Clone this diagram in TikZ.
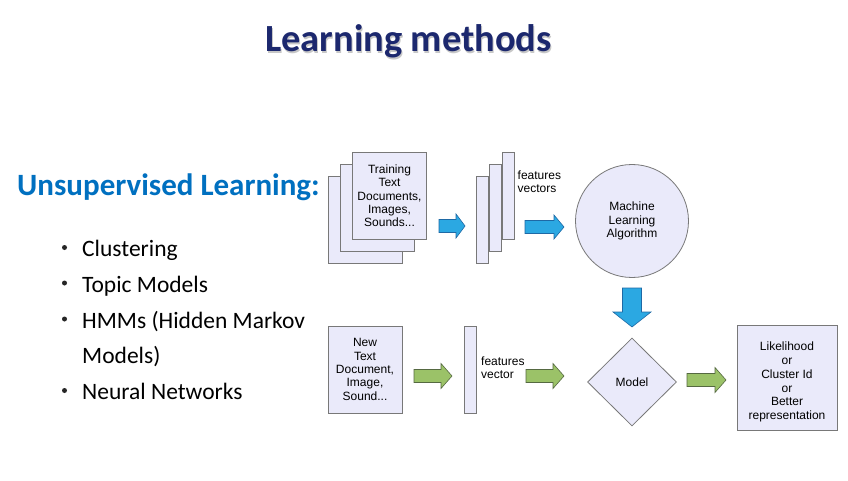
\documentclass[tikz,border=0pt]{standalone}
\usepackage{fontspec}
\setmainfont{Carlito}
\newfontfamily\diagfont{Liberation Sans}
\usetikzlibrary{shapes.geometric,calc}

\definecolor{titlenavy}{RGB}{28,40,110}
\definecolor{headblue}{RGB}{0,112,192}
\definecolor{boxfill}{RGB}{234,234,250}
\definecolor{boxline}{RGB}{120,120,120}
\definecolor{bluefill}{RGB}{43,168,226}
\definecolor{blueline}{RGB}{30,105,165}
\definecolor{greenfill}{RGB}{155,194,104}
\definecolor{greenline}{RGB}{85,105,65}

% horizontal block arrow: style, from, to, shaft half width, head half width, head length
\newcommand\blockarrowh[6]{%
  \draw[#1] let \p1=(#2), \p2=(#3) in
    (\x1,\y1+#4) -- (\x2-#6,\y1+#4) -- (\x2-#6,\y1+#5) -- (\x2,\y1)
    -- (\x2-#6,\y1-#5) -- (\x2-#6,\y1-#4) -- (\x1,\y1-#4) -- cycle;}
% downward block arrow: style, from, to, shaft half width, head half width, head length
\newcommand\blockarrowv[6]{%
  \draw[#1] let \p1=(#2), \p2=(#3) in
    (\x1-#4,\y1) -- (\x1-#4,\y2+#6) -- (\x1-#5,\y2+#6) -- (\x1,\y2)
    -- (\x1+#5,\y2+#6) -- (\x1+#4,\y2+#6) -- (\x1+#4,\y1) -- cycle;}

\tikzset{
  panel/.style={draw=boxline, fill=boxfill, line width=0.8pt, inner sep=0pt,
    font=\diagfont\fontsize{12}{13.3}\selectfont, align=center},
  doc/.style={panel, minimum width=74pt, minimum height=87pt},
  bar/.style={panel, minimum width=12pt, minimum height=87pt},
  note/.style={font=\diagfont\fontsize{12}{13.3}\selectfont, align=left, inner sep=0pt, anchor=west},
  bluearrow/.style={fill=bluefill, draw=blueline, line width=0.6pt, line join=miter},
  greenarrow/.style={fill=greenfill, draw=greenline, line width=0.6pt, line join=miter},
  item/.style={font=\fontsize{23.5}{28}\selectfont, anchor=base west, inner sep=0pt},
  dot/.style={circle, fill=black!85, inner sep=0pt, minimum size=5pt},
}

\begin{document}
\begin{tikzpicture}[x=1pt, y=-1pt]
  \fill[white] (0,0) rectangle (848,481);
  \useasboundingbox (0,0) rectangle (848,481);

  % title with a soft shadow
  \node[font=\bfseries\fontsize{38.4}{44}\selectfont, text=black!22, anchor=base, inner sep=0pt]
    at (409.5,53.5) {Learning methods};
  \node[font=\bfseries\fontsize{38.4}{44}\selectfont, text=titlenavy, anchor=base, inner sep=0pt]
    (title) at (408.5,52) {Learning methods};

  % left column
  \node[font=\bfseries\fontsize{31}{36}\selectfont, text=headblue, anchor=base west, inner sep=0pt]
    (heading) at (17,196) {Unsupervised Learning:};
  \node[dot] (b1) at (64.5,247.5) {};
  \node[item] (i1) at (82,256.5) {Clustering};
  \node[dot] (b2) at (64.5,283) {};
  \node[item] (i2) at (82,292) {Topic Models};
  \node[dot] (b3) at (64.5,319) {};
  \node[item] (i3) at (82,328) {HMMs (Hidden Markov};
  \node[item] (i3b) at (82,363.5) {Models)};
  \node[dot] (b4) at (64.5,390.5) {};
  \node[item] (i4) at (82,399.5) {Neural Networks};

  % training row
  \node[doc] (train3) at (365,220) {};
  \node[doc] (train2) at (377,208) {};
  \node[doc] (train1) at (389.5,196) {Training\\Text\\Documents,\\Images,\\Sounds...};

  \node[bar] (fv3) at (482,220) {};
  \node[bar] (fv2) at (495,208) {};
  \node[bar] (fv1) at (508,196) {};
  \node[note] (fvlabel) at (517.5,181.5) {features\\vectors};

  \node[panel, circle, minimum size=113pt] (mla) at (632,221) {Machine\\Learning\\Algorithm};

  % prediction row
  \node[doc] (newdoc) at (365,369.5) {New\\Text\\Document,\\Image,\\Sound...};
  \node[bar] (fv) at (470,369.5) {};
  \node[note] (fvnote) at (481,367.5) {features\\vector};
  \node[panel, diamond, minimum width=89pt, minimum height=88pt] (model) at (632,382) {Model};
  \node[panel, minimum width=100pt, minimum height=105pt] (out) at (787,377.5) {};
  \node[font=\diagfont\fontsize{12}{13.8}\selectfont, align=center, inner sep=0pt]
    (outtext) at (787,382) {Likelihood\\or\\Cluster Id\\or\\Better\\representation};

  % arrow end points
  \coordinate (ba1s) at (439,226);   \coordinate (ba1e) at (465,226);
  \coordinate (ba2s) at (525,227);   \coordinate (ba2e) at (564,227);
  \coordinate (bds)  at (632,288);   \coordinate (bde)  at (632,327);
  \coordinate (ga1s) at (414,376);   \coordinate (ga1e) at (452,376);
  \coordinate (ga2s) at (526,376);   \coordinate (ga2e) at (564,376);
  \coordinate (ga3s) at (687,380);   \coordinate (ga3e) at (726,380);

  \blockarrowh{bluearrow}{ba1s}{ba1e}{6.5pt}{12pt}{9pt}
  \blockarrowh{bluearrow}{ba2s}{ba2e}{6.5pt}{12pt}{10pt}
  \blockarrowv{bluearrow}{bds}{bde}{9.5pt}{19pt}{15pt}
  \blockarrowh{greenarrow}{ga1s}{ga1e}{6.5pt}{12.5pt}{11pt}
  \blockarrowh{greenarrow}{ga2s}{ga2e}{6.5pt}{12.5pt}{11pt}
  \blockarrowh{greenarrow}{ga3s}{ga3e}{6.5pt}{12.5pt}{11pt}
\end{tikzpicture}
\end{document}
